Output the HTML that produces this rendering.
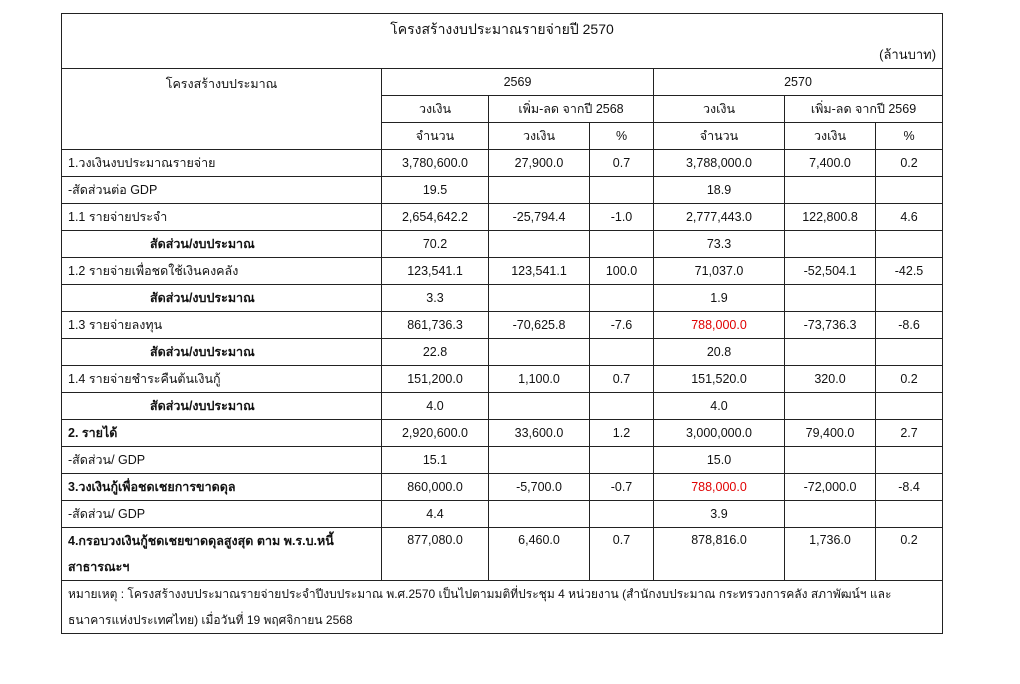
<!DOCTYPE html>
<html><head><meta charset="utf-8"><style>
html,body{margin:0;padding:0;background:#fff;width:1020px;height:684px;overflow:hidden}
body{font-family:"Liberation Sans","DejaVu Sans",sans-serif;font-size:12.5px;color:#111}
table{position:absolute;left:61px;top:13px;border-collapse:collapse;table-layout:fixed;width:881px}
td{border:1px solid #222;padding:0 6px;height:26px;text-align:center;white-space:nowrap;overflow:hidden}
td.l{text-align:left}
td.i{text-align:left;padding-left:88px}
.r{color:#e00000}
.b{font-weight:bold}
</style></head><body>
<table>
<colgroup><col style="width:320px"><col style="width:107px"><col style="width:101px"><col style="width:64px"><col style="width:131px"><col style="width:91px"><col style="width:67px"></colgroup>
<tr><td colspan="7" style="height:49px;position:relative;vertical-align:top;padding-top:5px;font-size:14px">โครงสร้างงบประมาณรายจ่ายปี 2570<div style="position:absolute;right:6px;top:30px;font-size:13px">(ล้านบาท)</div></td></tr>
<tr><td rowspan="3" style="vertical-align:top;padding-top:5px">โครงสร้างบประมาณ</td><td colspan="3">2569</td><td colspan="3">2570</td></tr>
<tr><td>วงเงิน</td><td colspan="2">เพิ่ม-ลด จากปี 2568</td><td>วงเงิน</td><td colspan="2">เพิ่ม-ลด จากปี 2569</td></tr>
<tr><td>จำนวน</td><td>วงเงิน</td><td>%</td><td>จำนวน</td><td>วงเงิน</td><td>%</td></tr>
<tr><td class="l">1.วงเงินงบประมาณรายจ่าย</td><td>3,780,600.0</td><td>27,900.0</td><td>0.7</td><td>3,788,000.0</td><td>7,400.0</td><td>0.2</td></tr>
<tr><td class="l">-สัดส่วนต่อ GDP</td><td>19.5</td><td></td><td></td><td>18.9</td><td></td><td></td></tr>
<tr><td class="l">1.1 รายจ่ายประจำ</td><td>2,654,642.2</td><td>-25,794.4</td><td>-1.0</td><td>2,777,443.0</td><td>122,800.8</td><td>4.6</td></tr>
<tr><td class="i b">สัดส่วน/งบประมาณ</td><td>70.2</td><td></td><td></td><td>73.3</td><td></td><td></td></tr>
<tr><td class="l">1.2 รายจ่ายเพื่อชดใช้เงินคงคลัง</td><td>123,541.1</td><td>123,541.1</td><td>100.0</td><td>71,037.0</td><td>-52,504.1</td><td>-42.5</td></tr>
<tr><td class="i b">สัดส่วน/งบประมาณ</td><td>3.3</td><td></td><td></td><td>1.9</td><td></td><td></td></tr>
<tr><td class="l">1.3 รายจ่ายลงทุน</td><td>861,736.3</td><td>-70,625.8</td><td>-7.6</td><td class="r">788,000.0</td><td>-73,736.3</td><td>-8.6</td></tr>
<tr><td class="i b">สัดส่วน/งบประมาณ</td><td>22.8</td><td></td><td></td><td>20.8</td><td></td><td></td></tr>
<tr><td class="l">1.4 รายจ่ายชำระคืนต้นเงินกู้</td><td>151,200.0</td><td>1,100.0</td><td>0.7</td><td>151,520.0</td><td>320.0</td><td>0.2</td></tr>
<tr><td class="i b">สัดส่วน/งบประมาณ</td><td>4.0</td><td></td><td></td><td>4.0</td><td></td><td></td></tr>
<tr><td class="l b">2. รายได้</td><td>2,920,600.0</td><td>33,600.0</td><td>1.2</td><td>3,000,000.0</td><td>79,400.0</td><td>2.7</td></tr>
<tr><td class="l">-สัดส่วน/ GDP</td><td>15.1</td><td></td><td></td><td>15.0</td><td></td><td></td></tr>
<tr><td class="l b">3.วงเงินกู้เพื่อชดเชยการขาดดุล</td><td>860,000.0</td><td>-5,700.0</td><td>-0.7</td><td class="r">788,000.0</td><td>-72,000.0</td><td>-8.4</td></tr>
<tr><td class="l">-สัดส่วน/ GDP</td><td>4.4</td><td></td><td></td><td>3.9</td><td></td><td></td></tr>
<tr><td class="l b" style="height:52px;line-height:26px;white-space:normal">4.กรอบวงเงินกู้ชดเชยขาดดุลสูงสุด ตาม พ.ร.บ.หนี้<br>สาธารณะฯ</td><td style="vertical-align:top;padding-top:5px">877,080.0</td><td style="vertical-align:top;padding-top:5px">6,460.0</td><td style="vertical-align:top;padding-top:5px">0.7</td><td style="vertical-align:top;padding-top:5px">878,816.0</td><td style="vertical-align:top;padding-top:5px">1,736.0</td><td style="vertical-align:top;padding-top:5px">0.2</td></tr>
<tr><td colspan="7" class="l" style="height:52px;line-height:26px;white-space:normal;font-size:12px">หมายเหตุ : โครงสร้างงบประมาณรายจ่ายประจำปีงบประมาณ พ.ศ.2570 เป็นไปตามมติที่ประชุม 4 หน่วยงาน (สำนักงบประมาณ กระทรวงการคลัง สภาพัฒน์ฯ และ<br>ธนาคารแห่งประเทศไทย) เมื่อวันที่ 19 พฤศจิกายน 2568</td></tr>
</table>
</body></html>
